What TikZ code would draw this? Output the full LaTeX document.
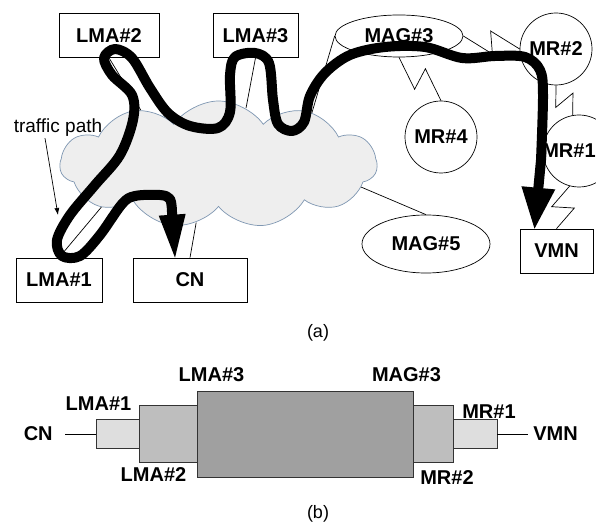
\documentclass[tikz,border=0pt]{standalone}
\usepackage{fontspec}
\setmainfont{Liberation Sans}
\usetikzlibrary{positioning,arrows.meta,shapes.geometric,shapes.symbols,calc}
\definecolor{netfill}{HTML}{EEEEEE}
\definecolor{netedge}{HTML}{7F97B2}
\definecolor{lvlA}{HTML}{DEDEDE}
\definecolor{lvlB}{HTML}{BEBEBE}
\definecolor{lvlC}{HTML}{A0A0A0}
\tikzset{
  every picture/.style={line width=0.7pt},
  box/.style={draw,rectangle,minimum height=44pt,inner sep=0pt,font=\fontsize{20}{23}\selectfont\bfseries},
  oval/.style={draw,ellipse,minimum width=128pt,inner sep=0pt,font=\fontsize{20}{23}\selectfont\bfseries},
  mrc/.style={draw,circle,minimum size=72pt,inner sep=0pt,font=\fontsize{20}{23}\selectfont\bfseries},
  net/.style={cloud,draw=netedge,fill=netfill,cloud puffs=11,cloud puff arc=110,cloud ignores aspect,
    minimum width=317pt,minimum height=127pt,inner sep=0pt},
  lbl/.style={font=\fontsize{20}{23}\selectfont\bfseries,inner sep=1pt},
  note/.style={font=\fontsize{19}{22}\selectfont,inner sep=1pt},
  seg/.style={draw=black!80,rectangle,inner sep=0pt,outer sep=0pt},
  pointer/.style={-{Latex[length=7pt,width=5pt]}},
  trail/.style={line width=10pt,line cap=round,line join=round,
    {Triangle[length=43pt,width=27pt,line width=0pt]}-{Triangle[length=41pt,width=34pt,line width=0pt]}},
  bolt/.style={to path={
    -- ($(\tikztostart)!0.56!(\tikztotarget)!11pt!-90:(\tikztotarget)$)
    -- ($(\tikztostart)!0.44!(\tikztotarget)!11pt!90:(\tikztotarget)$)
    -- (\tikztotarget)}},
}

\begin{document}
\begin{tikzpicture}[x=1pt,y=-1pt]
\path[use as bounding box,fill=white] (0,0) rectangle (596,526);
% core network
\node[net] (net) at (218.5,164.5) {};
% anchors, gateways and routers
\node[box,minimum width=100pt] (lma2) at (109,35.5) {LMA\#2};
\node[box,minimum width=85pt] (lma3) at (255.5,35.5) {LMA\#3};
\node[box,minimum width=86pt] (lma1) at (59,280) {LMA\#1};
\node[box,minimum width=114pt] (cn) at (190,280) {CN};
\node[box,minimum width=73pt] (vmn) at (556.5,251) {VMN};
\node[oval,minimum height=42pt] (mag3) at (399,36) {MAG\#3};
\node[oval,minimum height=58pt] (mag5) at (426,244) {MAG\#5};
\node[mrc] (mr2) at (556,49) {MR\#2};
\node[mrc] (mr4) at (441,137) {MR\#4};
\node[mrc] (mr1) at (579,151) {};
\node[lbl] (mr1t) at (569,151) {MR\#1};
% wired links
\draw (lma2.south) -- (net.145);
\draw (lma3.south) -- (net.64);
\draw (mag3.west) -- (net.29);
\draw (net.-9) -- (mag5.north);
\draw (cn.north) -- (net.249);
\draw (lma1.north) -- (net.200);
% wireless links
\draw[bolt] (mag3.south) to (mr4.north);
\draw[bolt] (mag3.east) to (mr2.west);
\draw[bolt] (mr2.south) to (mr1.100);
\draw[bolt] (mr1.255) to (vmn.north);
% traffic path
\node[note] (tpath) at (58,128) {traffic path};
\coordinate (tptip) at (58,215);
\draw[pointer] ([xshift=-13pt]tpath.south) -- (tptip);
\draw[trail] ([xshift=-15pt]cn.north) -- plot[smooth,tension=0.55] coordinates {
  (172,212) (170,199) (160,195) (135,196) (122,204) (100,235) (80,256) (62,256)
  (57,240) (70,215) (95,185) (120,155) (133,120) (132,95) (112,75) (104,58)
  (115,49) (132,58) (150,88) (168,113) (190,126) (218,128) (230,112) (230,75)
  (235,57) (255,53) (269,63) (273,100) (278,124) (292,131) (304,122) (310,96)
  (325,73) (350,55) (385,47) (425,47) (462,58) (495,56) (525,57) (540,70)
  (543,95) (541,160)} -- ([xshift=-22pt]vmn.north);
\node[note,font=\fontsize{18}{21}\selectfont] (capa) at (318,333) {(a)};
% tunnel nesting
\node[seg,fill=lvlC,minimum width=216pt,minimum height=86pt] (core) at (305,434) {};
\node[seg,fill=lvlB,minimum width=58pt,minimum height=57pt,left=0pt of core] (la2) {};
\node[seg,fill=lvlB,minimum width=40pt,minimum height=57pt,right=0pt of core] (mb2) {};
\node[seg,fill=lvlA,minimum width=43pt,minimum height=29pt,left=0pt of la2] (la1) {};
\node[seg,fill=lvlA,minimum width=44pt,minimum height=29pt,right=0pt of mb2] (mb1) {};
\node[lbl,inner xsep=12pt,left=31pt of la1] (bcn) {CN};
\node[lbl,inner xsep=5pt,right=31pt of mb1] (bvmn) {VMN};
\draw (bcn) -- (la1);
\draw (mb1) -- (bvmn);
\node[lbl] (bl1) at (98.5,404) {LMA\#1};
\node[lbl] (bl2) at (153.5,475) {LMA\#2};
\node[lbl] (bl3) at (211.5,375) {LMA\#3};
\node[lbl] (bm3) at (406.5,375) {MAG\#3};
\node[lbl] (bm1) at (489,412) {MR\#1};
\node[lbl] (bm2) at (447,478) {MR\#2};
\node[note,font=\fontsize{18}{21}\selectfont] (capb) at (318,514) {(b)};
\end{tikzpicture}
\end{document}
